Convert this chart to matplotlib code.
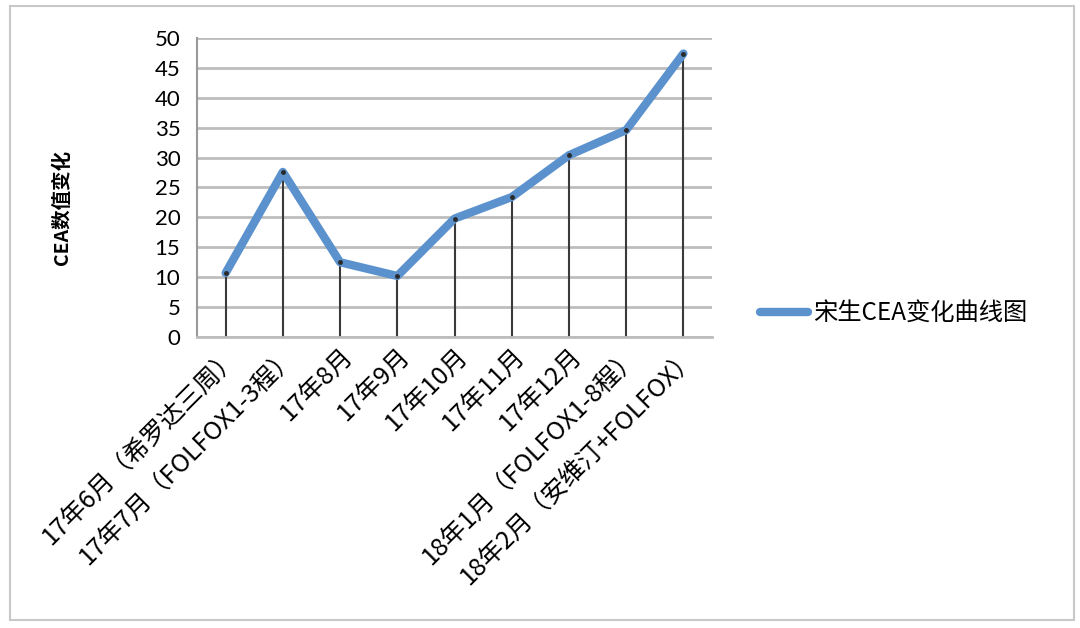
import numpy as np
import matplotlib
matplotlib.use("Agg")
import matplotlib.pyplot as plt
from matplotlib.patches import Rectangle

plt.rcParams['font.family'] = ['Noto Sans CJK SC', 'DejaVu Sans']

# data
categories = [
    "17年6月（希罗达三周）",
    "17年7月（FOLFOX1-3程）",
    "17年8月",
    "17年9月",
    "17年10月",
    "17年11月",
    "17年12月",
    "18年1月（FOLFOX1-8程）",
    "18年2月（安维汀+FOLFOX）",
]
cea_values = [10.7, 27.6, 12.5, 10.2, 19.8, 23.4, 30.4, 34.6, 47.4]
series_name = "宋生CEA变化曲线图"
y_ticks = [0, 5, 10, 15, 20, 25, 30, 35, 40, 45, 50]

fig = plt.figure(figsize=(10.8, 6.28), dpi=100)
fig.patches.append(Rectangle((0.009, 0.012), 0.985, 0.978, transform=fig.transFigure,
                             fill=False, edgecolor="#c8c8c8", linewidth=1.5))

ax = fig.add_axes([0.1824, 0.4634, 0.4769, 0.4761])
x = np.arange(len(categories))

ax.set_xlim(-0.5, len(categories) - 0.5)
ax.set_ylim(0, 50)
ax.set_yticks(y_ticks)
ax.yaxis.grid(True, color="#bdbdbd", linewidth=2)
ax.set_axisbelow(True)

ax.vlines(x, 0, cea_values, color="#3a3a3a", linewidth=1.5, zorder=2)
ax.plot(x, cea_values, color="#5b92cd", linewidth=6, solid_capstyle="round",
        solid_joinstyle="round", label=series_name, zorder=3)
ax.plot(x, cea_values, linestyle="none", marker="o", markersize=2.5,
        color="#2a2a2a", zorder=4)

for s in ["top", "right"]:
    ax.spines[s].set_visible(False)
ax.spines["left"].set_color("#9a9a9a")
ax.spines["left"].set_linewidth(1.5)
ax.spines["bottom"].set_color("#bdbdbd")
ax.spines["bottom"].set_linewidth(2)

ax.tick_params(axis="y", length=0, pad=12, labelsize=16)
ax.tick_params(axis="x", length=0, pad=4)
for lab in ax.get_yticklabels():
    lab.set_fontfamily(["Lato", "DejaVu Sans"])

ax.set_xticks(x)
ax.set_xticklabels(categories, rotation=45, ha="right", va="top",
                   rotation_mode="anchor", fontsize=18)

fig.text(0.058, 0.67, "CEA数值变化", rotation=90, ha="center", va="center",
         fontsize=14, fontweight="bold")

ax.legend(loc="center left", bbox_to_anchor=(1.05, 0.08), frameon=False,
          fontsize=17.5, handlelength=2.0, handletextpad=0.2)

fig.savefig("out.png", dpi=100)
